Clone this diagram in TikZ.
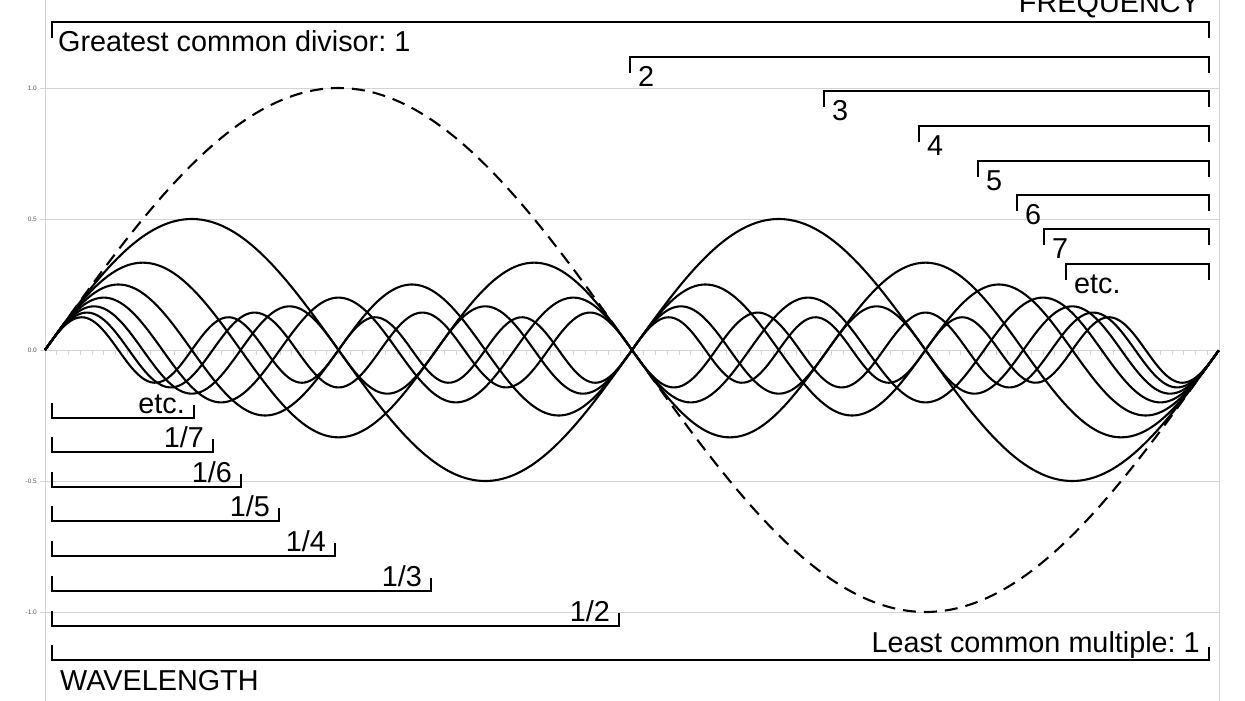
\documentclass[tikz,border=0pt]{standalone}
\usepackage{fontspec}
\setmainfont{Liberation Sans}
\frenchspacing
\begin{document}
\begin{tikzpicture}[x=1pt,y=-1pt,
  gridline/.style={draw=black!17,line width=0.8pt},
  wave/.style={line width=2.1pt,black,line join=round},
  fundamental/.style={line width=2.1pt,black,dash pattern=on 13pt off 8pt},
  brk/.style={line width=1.9pt,black},
  lbl/.style={font=\fontsize{28.8}{34}\selectfont,inner sep=0pt},
  axlbl/.style={font=\fontsize{6.5}{8}\selectfont,text=black!65,inner sep=0pt,anchor=east}]
\useasboundingbox (0,0) rectangle (1245,701);
% axes and grid
\draw[gridline] (45,0) -- (45,701);
\draw[gridline] (1219,0) -- (1219,701);
\foreach \yy/\tx [count=\i] in {88/1.0,219/0.5,350/0.0,481/-0.5,612/-1.0}{
  \draw[gridline] (40,\yy) -- (1219,\yy);
  \node[axlbl] (ax\i) at (37,\yy) {\tx};
}
\foreach \k in {1,...,99}{
  \draw[gridline,line width=0.6pt] ({45+11.74*\k},350) -- ++(0,5);
}
% curves
\draw[fundamental] plot[domain=0:1,samples=240] ({45+1174*\x},{350-262*sin(360*\x)});
\foreach \n in {2,...,8}{
  \draw[wave] plot[domain=0:1,samples=420] ({45+1174*\x},{350-262*sin(360*\n*\x)/\n});
}
% top brackets (frequency)
\foreach \xa/\yy/\tx [count=\i] in {630/57/2,824/91/3,919/126/4,978/161/5,1017/195/6,1044/229/7,1066/264/etc.}{
  \draw[brk] (\xa,\yy+16) -- (\xa,\yy) -- (1209,\yy) -- (1209,\yy+16);
  \node[lbl,anchor=base west] (f\i) at (\xa+8,\yy+29) {\tx};
}
\draw[brk] (52,38) -- (52,22) -- (1209,22) -- (1209,38);
\node[lbl,anchor=base west] (gcd) at (58,52) {Greatest common divisor: 1};
\node[lbl,anchor=base east] (freq) at (1200,13) {FREQUENCY};
% bottom brackets (wavelength)
\foreach \xb/\yy/\tx [count=\i] in {194/418/etc.,213/452/1\slash 7,241/487/1\slash 6,279/521/1\slash 5,335/556/1\slash 4,431/591/1\slash 3,619/626/1\slash 2}{
  \draw[brk] (52,\yy-15) -- (52,\yy) -- (\xb,\yy) -- (\xb,\yy-13);
  \node[lbl,anchor=base east] (w\i) at (\xb-9,\yy-5) {\tx};
}
\draw[brk] (52,645) -- (52,660) -- (1209,660) -- (1209,647);
\node[lbl,anchor=base east] (lcm) at (1200,652) {Least common multiple: 1};
\node[lbl,anchor=base west] (wave) at (60,690) {WAVELENGTH};
\end{tikzpicture}
\end{document}
